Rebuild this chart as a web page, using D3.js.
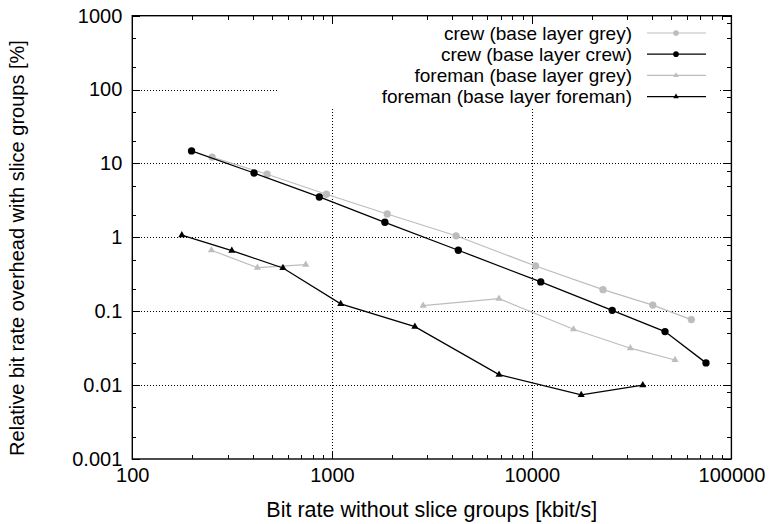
<!DOCTYPE html>
<html>
<head>
<meta charset="utf-8">
<script src="https://cdn.jsdelivr.net/npm/d3@7"></script>
<style>
  body { margin: 0; background: #fff; }
  text { font-family: "Liberation Sans", Arial, Helvetica, sans-serif; fill: #000; }
</style>
</head>
<body>
<svg id="chart" width="771" height="524"></svg>
<script>
// values (x in kbit/s, y in %); null = break in the line
var crewGreyX = [251, 473, 937, 1890, 4180, 10450, 22750, 40400, 63000];
var crewGreyY = [12.2, 7.14, 3.83, 2.07, 1.05, 0.41, 0.196, 0.121, 0.077];
var crewX = [198, 407, 864, 1840, 4290, 11100, 25300, 46500, 74600];
var crewY = [14.8, 7.43, 3.52, 1.60, 0.669, 0.249, 0.103, 0.053, 0.020];
var foremanGreyX = [249, 423, 739, null, 2860, 6860, 16200, 31200, 52200];
var foremanGreyY = [0.669, 0.389, 0.427, null, 0.119, 0.148, 0.057, 0.0316, 0.0219];
var foremanX = [177, 315, 568, 1106, 2600, 6860, 17700, 36000];
var foremanY = [1.07, 0.661, 0.385, 0.1256, 0.0619, 0.01387, 0.00736, 0.00997];

var xTicks = [100, 1000, 10000, 100000];
var yTicks = [0.001, 0.01, 0.1, 1, 10, 100, 1000];
var xGrid = [1000, 10000];
var yGrid = [0.01, 0.1, 1, 10, 100];

var seriesNames = ["crew (base layer grey)", "crew (base layer crew)",
                   "foreman (base layer grey)", "foreman (base layer foreman)"];

var grey = "#bdbdbd";

var series = [
  { name: seriesNames[0], xs: crewGreyX, ys: crewGreyY, color: grey, width: 1.2, symbol: d3.symbolCircle, size: 42 },
  { name: seriesNames[1], xs: crewX, ys: crewY, color: "#000", width: 1.3, symbol: d3.symbolCircle, size: 42 },
  { name: seriesNames[2], xs: foremanGreyX, ys: foremanGreyY, color: grey, width: 1.2, symbol: d3.symbolTriangle, size: 22 },
  { name: seriesNames[3], xs: foremanX, ys: foremanY, color: "#000", width: 1.3, symbol: d3.symbolTriangle, size: 22 }
];

var plotLeft = 132.3, plotRight = 731.4, plotTop = 15.7, plotBottom = 459;

var x = d3.scaleLog().domain([100, 100000]).range([plotLeft, plotRight]);
var y = d3.scaleLog().domain([0.001, 1000]).range([plotBottom, plotTop]);

function minors(lo, hi, mult) {
  var out = [];
  for (var e = lo; e < hi; e++) {
    mult.forEach(function(m) { out.push(m * Math.pow(10, e)); });
  }
  return out;
}

var svg = d3.select("#chart");

// grid
var grid = svg.append("g")
    .attr("stroke", "#000")
    .attr("stroke-width", 1)
    .attr("stroke-dasharray", "1,2")
    .attr("shape-rendering", "crispEdges");

grid.selectAll(".gx").data(xGrid).enter().append("line")
    .attr("x1", function(d) { return Math.round(x(d)) + 0.5; })
    .attr("x2", function(d) { return Math.round(x(d)) + 0.5; })
    .attr("y1", plotTop).attr("y2", plotBottom);

grid.selectAll(".gy").data(yGrid).enter().append("line")
    .attr("y1", function(d) { return Math.round(y(d)) + 0.5; })
    .attr("y2", function(d) { return Math.round(y(d)) + 0.5; })
    .attr("x1", plotLeft).attr("x2", plotRight);

// legend box hides the grid behind it
svg.append("rect")
    .attr("x", 277).attr("y", plotTop + 1)
    .attr("width", 442).attr("height", 92)
    .attr("fill", "#fff");

// axes
function styleAxis(g) {
  g.select(".domain").remove();
  g.selectAll("line").attr("stroke", "#000").attr("shape-rendering", "crispEdges");
  g.selectAll("text").attr("font-size", "20px").attr("fill", "#000")
      .attr("font-family", "'Liberation Sans', Arial, sans-serif");
}

var fmt = function(d) { return d3.format("~g")(d); };

svg.append("g").attr("transform", "translate(0," + plotBottom + ")")
    .call(d3.axisBottom(x).tickValues(xTicks).tickFormat(fmt).tickSize(-8).tickPadding(9))
    .call(styleAxis);
svg.append("g").attr("transform", "translate(0," + plotBottom + ")")
    .call(d3.axisBottom(x).tickValues(minors(2, 5, [2, 3, 4, 5, 6, 7, 8, 9])).tickFormat("").tickSize(-4))
    .call(styleAxis);
svg.append("g").attr("transform", "translate(0," + plotTop + ")")
    .call(d3.axisTop(x).tickValues(xTicks).tickFormat("").tickSize(-8))
    .call(styleAxis);
svg.append("g").attr("transform", "translate(0," + plotTop + ")")
    .call(d3.axisTop(x).tickValues(minors(2, 5, [2, 3, 4, 5, 6, 7, 8, 9])).tickFormat("").tickSize(-4))
    .call(styleAxis);

svg.append("g").attr("transform", "translate(" + plotLeft + ",0)")
    .call(d3.axisLeft(y).tickValues(yTicks).tickFormat(fmt).tickSize(-8).tickPadding(10))
    .call(styleAxis);
svg.append("g").attr("transform", "translate(" + plotLeft + ",0)")
    .call(d3.axisLeft(y).tickValues(minors(-3, 3, [2, 5])).tickFormat("").tickSize(-4))
    .call(styleAxis);
svg.append("g").attr("transform", "translate(" + plotRight + ",0)")
    .call(d3.axisRight(y).tickValues(yTicks).tickFormat("").tickSize(-8))
    .call(styleAxis);
svg.append("g").attr("transform", "translate(" + plotRight + ",0)")
    .call(d3.axisRight(y).tickValues(minors(-3, 3, [2, 5, 8])).tickFormat("").tickSize(-4))
    .call(styleAxis);

// frame
svg.append("rect")
    .attr("x", plotLeft).attr("y", plotTop)
    .attr("width", plotRight - plotLeft).attr("height", plotBottom - plotTop)
    .attr("fill", "none").attr("stroke", "#000").attr("stroke-width", 1.4);

// series
var line = d3.line()
    .defined(function(d) { return d[0] != null && d[1] != null; })
    .x(function(d) { return x(d[0]); })
    .y(function(d) { return y(d[1]); });

series.forEach(function(s) {
  var pts = s.xs.map(function(v, i) { return [v, s.ys[i]]; });
  var g = svg.append("g");
  g.append("path")
      .attr("d", line(pts))
      .attr("fill", "none")
      .attr("stroke", s.color)
      .attr("stroke-width", s.width);
  g.selectAll("path.m").data(pts.filter(line.defined())).enter().append("path")
      .attr("class", "m")
      .attr("d", d3.symbol().type(s.symbol).size(s.size))
      .attr("transform", function(d) { return "translate(" + x(d[0]) + "," + y(d[1]) + ")"; })
      .attr("fill", s.color);
});

// legend
var legend = svg.append("g").selectAll("g").data(series).enter().append("g")
    .attr("transform", function(d, i) { return "translate(0," + (33 + i * 21.2) + ")"; });

legend.append("text")
    .attr("x", 632).attr("dy", "0.35em")
    .attr("text-anchor", "end")
    .attr("font-size", "19px")
    .text(function(d) { return d.name; });

legend.append("line")
    .attr("x1", 647).attr("x2", 706)
    .attr("stroke", function(d) { return d.color; })
    .attr("stroke-width", function(d) { return d.width; });

legend.append("path")
    .attr("d", function(d) { return d3.symbol().type(d.symbol).size(d.size * 0.6)(); })
    .attr("transform", "translate(676,0)")
    .attr("fill", function(d) { return d.color; });

// axis titles
svg.append("text")
    .attr("x", (plotLeft + plotRight) / 2).attr("y", 517)
    .attr("text-anchor", "middle")
    .attr("font-size", "21.5px")
    .text("Bit rate without slice groups [kbit/s]");

svg.append("text")
    .attr("transform", "translate(24,248) rotate(-90)")
    .attr("text-anchor", "middle")
    .attr("font-size", "20px")
    .text("Relative bit rate overhead with slice groups [%]");
</script>
</body>
</html>
